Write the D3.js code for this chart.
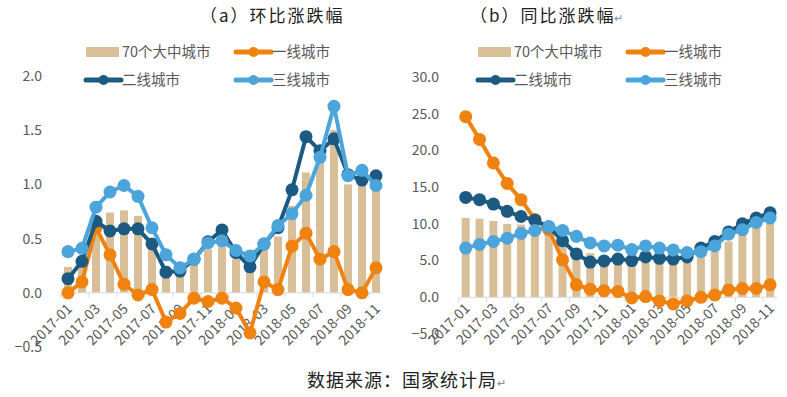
<!DOCTYPE html>
<html>
<head>
<meta charset="utf-8">
<script src="https://cdn.jsdelivr.net/npm/d3@7"></script>
<style>
  body { margin: 0; background: #fff; }
  svg { font-family: "Noto Sans CJK SC", "Noto Sans", sans-serif; }
</style>
</head>
<body>
<svg id="chart" width="787" height="397"></svg>
<script>
var months = ["2017-01","2017-02","2017-03","2017-04","2017-05","2017-06","2017-07","2017-08","2017-09","2017-10","2017-11","2017-12",
              "2018-01","2018-02","2018-03","2018-04","2018-05","2018-06","2018-07","2018-08","2018-09","2018-10","2018-11"];
var seriesNames = ["70个大中城市", "一线城市", "二线城市", "三线城市"];

// (a) 环比
var momCity70 = [0.24,0.3,0.6,0.74,0.76,0.71,0.5,0.25,0.2,0.3,0.4,0.43,0.31,0.19,0.43,0.52,0.8,1.11,1.2,1.5,1.0,1.0,0.99];
var momTier1  = [0.0,0.1,0.6,0.35,0.08,-0.02,0.03,-0.27,-0.19,-0.05,-0.08,-0.05,-0.14,-0.37,0.1,0.03,0.43,0.55,0.31,0.38,0.03,0.0,0.23];
var momTier2  = [0.13,0.29,0.66,0.57,0.59,0.59,0.45,0.19,0.2,0.31,0.47,0.58,0.37,0.24,0.45,0.6,0.95,1.44,1.31,1.42,1.09,1.04,1.08];
var momTier3  = [0.38,0.41,0.79,0.93,0.99,0.89,0.6,0.35,0.23,0.31,0.46,0.48,0.39,0.34,0.45,0.62,0.73,0.9,1.25,1.72,1.08,1.13,0.99];

// (b) 同比
var yoyCity70 = [10.8,10.7,10.4,10.0,9.9,9.4,8.8,7.8,6.0,6.0,5.1,4.9,4.7,4.7,4.7,4.6,4.7,5.4,6.2,7.6,8.8,9.6,10.1];
var yoyTier1  = [24.6,21.5,18.3,15.5,13.3,10.6,9.2,5.1,1.7,1.1,0.9,0.8,-0.1,0.1,-0.5,-0.9,-0.5,0.0,0.3,1.0,1.2,1.2,1.7];
var yoyTier2  = [13.6,13.3,12.7,11.7,11.0,10.5,9.6,7.7,5.9,4.8,4.95,5.2,5.0,5.5,5.3,5.2,5.5,6.7,7.6,8.9,10.0,10.8,11.5];
var yoyTier3  = [6.7,7.2,7.6,8.05,8.7,9.1,9.6,9.1,8.3,7.4,7.0,7.1,6.5,7.0,6.7,6.45,6.1,6.2,7.0,8.6,9.2,10.2,10.8];

var leftTicks  = [-0.5, 0, 0.5, 1.0, 1.5, 2.0];
var rightTicks = [-5, 0, 5, 10, 15, 20, 25, 30];

var colors = ["#D8BF98", "#F0820F", "#1C5A82", "#4BA4DA"];
var textColor = "#595959";

var svg = d3.select("#chart");

function drawPanel(opt) {
  var g = svg.append("g");
  var x = d3.scaleBand().domain(months).range(opt.xRange).padding(0);
  var y = d3.scaleLinear().domain(opt.yDomain).range(opt.yRange);
  var cx = function(d, i) { return x(months[i]) + x.bandwidth() / 2; };
  var y0 = y(0);

  // y tick labels
  g.selectAll(".ylab").data(opt.yTicks).enter().append("text")
    .attr("x", opt.yLabelX).attr("y", function(d) { return y(d); })
    .attr("dy", "0.35em").attr("text-anchor", "end")
    .attr("font-size", 14).attr("fill", textColor)
    .text(d3.format(".1f"));

  // bars
  g.selectAll(".bar").data(opt.bars).enter().append("rect")
    .attr("x", function(d, i) { return cx(d, i) - 4; })
    .attr("width", 8)
    .attr("y", function(d) { return Math.min(y(d), y0); })
    .attr("height", function(d) { return Math.abs(y(d) - y0); })
    .attr("fill", colors[0]);

  // x axis line + ticks
  g.append("line").attr("x1", opt.xRange[0]).attr("x2", opt.xRange[1])
    .attr("y1", y0).attr("y2", y0).attr("stroke", "#D9D9D9").attr("stroke-width", 1);
  var tickIdx = months.map(function(m, i) { return i; }).filter(function(i) { return i % 2 === 0; });
  g.selectAll(".tick").data(tickIdx).enter().append("line")
    .attr("x1", function(i) { return x(months[i]); })
    .attr("x2", function(i) { return x(months[i]); })
    .attr("y1", y0).attr("y2", y0 + 5)
    .attr("stroke", "#D9D9D9");
  g.selectAll(".xlab").data(tickIdx).enter().append("text")
    .attr("transform", function(i) {
      return "translate(" + (cx(null, i) + 5) + "," + (y0 + opt.labelOffset) + ") rotate(-45)";
    })
    .attr("text-anchor", "end")
    .attr("font-size", 14).attr("fill", textColor)
    .text(function(i) { return months[i]; });

  // lines
  var line = d3.line().x(cx).y(function(d) { return y(d); });
  opt.lines.forEach(function(vals, k) {
    var col = colors[k + 1];
    g.append("path").datum(vals).attr("d", line)
      .attr("fill", "none").attr("stroke", col).attr("stroke-width", 4)
      .attr("stroke-linejoin", "round");
    g.selectAll(".dot" + k).data(vals).enter().append("circle")
      .attr("cx", cx).attr("cy", function(d) { return y(d); })
      .attr("r", 6.5).attr("fill", col);
  });

  // title
  svg.append("text").attr("x", opt.titleX).attr("y", 22)
    .attr("font-size", 17).attr("letter-spacing", 2).attr("fill", "#222")
    .text(opt.title);

  // legend
  var lx = opt.legendX, rows = [52, 80];
  var items = [
    { name: seriesNames[0], col: colors[0], x: lx[0], y: rows[0], bar: true },
    { name: seriesNames[1], col: colors[1], x: lx[1], y: rows[0] },
    { name: seriesNames[2], col: colors[2], x: lx[0], y: rows[1] },
    { name: seriesNames[3], col: colors[3], x: lx[1], y: rows[1] }
  ];
  items.forEach(function(it) {
    var lg = svg.append("g").attr("transform", "translate(" + it.x + "," + it.y + ")");
    if (it.bar) {
      lg.append("rect").attr("x", 0).attr("y", -5).attr("width", 33).attr("height", 10).attr("fill", it.col);
    } else {
      lg.append("line").attr("x1", 0).attr("x2", 35).attr("y1", 0).attr("y2", 0)
        .attr("stroke", it.col).attr("stroke-width", 5).attr("stroke-linecap", "round");
      lg.append("circle").attr("cx", 17.5).attr("cy", 0).attr("r", 5).attr("fill", it.col);
    }
    lg.append("text").attr("x", 36).attr("y", 0).attr("dy", "0.35em")
      .attr("font-size", 14.5).attr("fill", textColor).text(it.name);
  });
}

drawPanel({
  xRange: [61, 383], yDomain: [-0.5, 2.0], yRange: [347, 76],
  yTicks: leftTicks, yLabelX: 42, labelOffset: 17,
  bars: momCity70, lines: [momTier1, momTier2, momTier3],
  title: "（a）环比涨跌幅", titleX: 200, legendX: [86, 236]
});

drawPanel({
  xRange: [458.8, 777], yDomain: [-5, 30], yRange: [334, 77],
  yTicks: rightTicks, yLabelX: 439, labelOffset: 12,
  bars: yoyCity70, lines: [yoyTier1, yoyTier2, yoyTier3],
  title: "（b）同比涨跌幅", titleX: 470, legendX: [478, 628]
});

svg.append("text").attr("x", 614).attr("y", 22).attr("font-size", 11).attr("fill", "#888").text("↵");

var foot = svg.append("text").attr("x", 307).attr("y", 387)
  .attr("font-size", 18).attr("letter-spacing", 1).attr("fill", "#222");
foot.append("tspan").text("数据来源：国家统计局");
foot.append("tspan").attr("font-size", 11).attr("fill", "#888").text("↵");
</script>
</body>
</html>
